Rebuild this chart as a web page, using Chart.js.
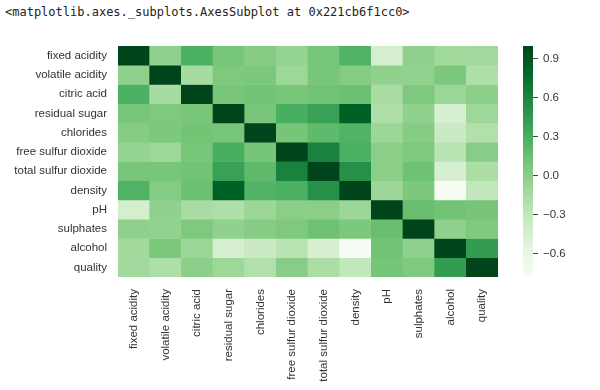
<!DOCTYPE html>
<html>
<head>
<meta charset="utf-8">
<script src="https://cdn.jsdelivr.net/npm/chart.js@4"></script>
<style>
	body { margin: 0; background: #fff; }
	#wrap { position: relative; width: 600px; height: 390px; }
	#header { position: absolute; left: 5px; top: 4px; font: 12px "DejaVu Sans Mono", monospace; color: #222; line-height: 16px; white-space: pre; }
	canvas { position: absolute; top: 0; }
</style>
</head>
<body>
<div id="wrap">
	<div id="header">&lt;matplotlib.axes._subplots.AxesSubplot at 0x221cb6f1cc0&gt;</div>
	<canvas id="heatChart" width="600" height="390" style="left:0"></canvas>
	<canvas id="cbarChart" width="100" height="390" style="left:500px"></canvas>
</div>
<script>
const labels = ["fixed acidity", "volatile acidity", "citric acid", "residual sugar", "chlorides",
	"free sulfur dioxide", "total sulfur dioxide", "density", "pH", "sulphates", "alcohol", "quality"];

// correlation rows, same order as labels
const corr = [
	[1.00, -0.02, 0.29, 0.09, 0.02, -0.05, 0.09, 0.27, -0.43, -0.02, -0.12, -0.11],
	[-0.02, 1.00, -0.15, 0.06, 0.07, -0.10, 0.09, 0.03, -0.03, -0.04, 0.07, -0.19],
	[0.29, -0.15, 1.00, 0.09, 0.11, 0.09, 0.12, 0.15, -0.16, 0.06, -0.08, -0.01],
	[0.09, 0.06, 0.09, 1.00, 0.09, 0.30, 0.40, 0.84, -0.19, -0.03, -0.45, -0.10],
	[0.02, 0.07, 0.11, 0.09, 1.00, 0.10, 0.20, 0.26, -0.09, 0.02, -0.36, -0.21],
	[-0.05, -0.10, 0.09, 0.30, 0.10, 1.00, 0.62, 0.29, 0.00, 0.06, -0.25, 0.01],
	[0.09, 0.09, 0.12, 0.40, 0.20, 0.62, 1.00, 0.53, 0.00, 0.13, -0.45, -0.17],
	[0.27, 0.03, 0.15, 0.84, 0.26, 0.29, 0.53, 1.00, -0.09, 0.07, -0.78, -0.31],
	[-0.43, -0.03, -0.16, -0.19, -0.09, 0.00, 0.00, -0.09, 1.00, 0.16, 0.12, 0.10],
	[-0.02, -0.04, 0.06, -0.03, 0.02, 0.06, 0.13, 0.07, 0.16, 1.00, -0.02, 0.05],
	[-0.12, 0.07, -0.08, -0.45, -0.36, -0.25, -0.45, -0.78, 0.12, -0.02, 1.00, 0.44],
	[-0.11, -0.19, -0.01, -0.10, -0.21, 0.01, -0.17, -0.31, 0.10, 0.05, 0.44, 1.00]
];

const vmin = -0.78;
const vmax = 1.0;
const cbarTicks = [0.9, 0.6, 0.3, 0.0, -0.3, -0.6];

// matplotlib "Greens"
const greens = ["#f7fcf5", "#e5f5e0", "#c7e9c0", "#a1d99b", "#74c476", "#41ab5d", "#238b45", "#006d2c", "#00441b"];

function hexToRgb(h) {
	return [parseInt(h.slice(1, 3), 16), parseInt(h.slice(3, 5), 16), parseInt(h.slice(5, 7), 16)];
}

function greenColor(v) {
	let t = (v - vmin) / (vmax - vmin);
	t = Math.max(0, Math.min(1, t));
	let pos = t * (greens.length - 1);
	let i = Math.min(Math.floor(pos), greens.length - 2);
	let f = pos - i;
	let a = hexToRgb(greens[i]);
	let b = hexToRgb(greens[i + 1]);
	let c = a.map((x, k) => Math.round(x + (b[k] - x) * f));
	return "rgb(" + c.join(",") + ")";
}

const tickFont = { family: "'Liberation Sans', Arial, sans-serif", size: 11.5 };
const tickColor = "#333";

// one dataset per row, each cell is a floating bar [row, row+1]
const datasets = corr.map((row, r) => ({
	data: labels.map(() => [r, r + 1]),
	backgroundColor: row.map((v) => greenColor(v)),
	borderWidth: 0,
	grouped: false,
	barPercentage: 1,
	categoryPercentage: 1,
}));

new Chart(document.getElementById("heatChart"), {
	type: "bar",
	data: { labels: labels, datasets: datasets },
	options: {
		responsive: false,
		animation: false,
		layout: { padding: { top: 46, right: 102, left: 0, bottom: 0 } },
		plugins: { legend: { display: false }, tooltip: { enabled: false } },
		scales: {
			x: {
				grid: { display: false, drawTicks: false },
				border: { display: false },
				ticks: { font: tickFont, color: tickColor, maxRotation: 90, minRotation: 90, padding: 12, autoSkip: false },
				afterFit: (s) => { s.height = 113; },
			},
			y: {
				type: "linear",
				min: 0,
				max: labels.length,
				reverse: true,
				grid: { display: false, drawTicks: false },
				border: { display: false },
				afterBuildTicks: (s) => { s.ticks = labels.map((_, i) => ({ value: i + 0.5 })); },
				ticks: {
					font: tickFont,
					color: tickColor,
					padding: 11,
					autoSkip: false,
					callback: (v) => labels[Math.floor(v)],
				},
				afterFit: (s) => { s.width = 118; },
			},
		},
	},
});

// colorbar
new Chart(document.getElementById("cbarChart"), {
	type: "bar",
	data: {
		labels: [""],
		datasets: [{
			data: [[vmin, vmax]],
			borderWidth: 0,
			barPercentage: 1,
			categoryPercentage: 1,
			backgroundColor: (ctx) => {
				const area = ctx.chart.chartArea;
				if (!area) return greens[4];
				const g = ctx.chart.ctx.createLinearGradient(0, area.bottom, 0, area.top);
				greens.forEach((c, i) => g.addColorStop(i / (greens.length - 1), c));
				return g;
			},
		}],
	},
	options: {
		responsive: false,
		animation: false,
		layout: { padding: { top: 46, bottom: 113, left: 23, right: 0 } },
		plugins: { legend: { display: false }, tooltip: { enabled: false } },
		scales: {
			x: { display: false },
			y: {
				position: "right",
				min: vmin,
				max: vmax,
				afterBuildTicks: (s) => { s.ticks = cbarTicks.map((v) => ({ value: v })); },
				grid: { drawOnChartArea: false, tickLength: 5, color: "#444" },
				border: { display: false },
				ticks: {
					font: tickFont,
					color: tickColor,
					padding: 5,
					callback: (v) => (v < -0.001 ? "\u2212" : "") + Math.abs(v).toFixed(1),
				},
				afterFit: (s) => { s.width = 67; },
			},
		},
	},
});
</script>
</body>
</html>
